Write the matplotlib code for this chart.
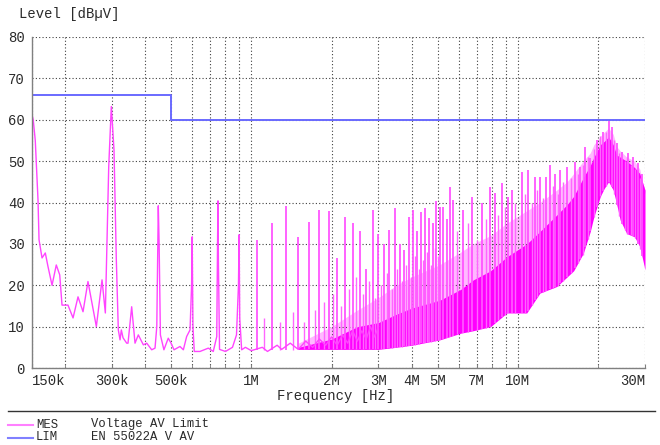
import matplotlib
matplotlib.use('Agg')
import matplotlib.pyplot as plt
from matplotlib.lines import Line2D
from matplotlib.ticker import FixedLocator, NullFormatter
import numpy as np

# ---------------- data ----------------
# continuous measured trace, 150 kHz .. 3 MHz (kHz, dBuV)
trace_freq_khz = [150, 152, 154.7, 158.4, 159.8, 164, 168.7, 172.7, 178.8, 185.5,
                  191.1, 194.9, 205.2, 214.4, 223.8, 233.7, 243.9, 262.2, 275.4, 283.4,
                  291.8, 298.4, 305.4, 311.6, 317, 321.8, 325.4, 330.2, 340.8, 344.7,
                  355.8, 366.2, 376.8, 393.5, 405.2, 423, 435.3, 442, 447.8, 451, 456,
                  470, 488, 500, 513, 540, 556, 572, 589, 597, 600, 604, 611, 642,
                  690, 720, 742, 747, 750, 753, 760, 800, 850, 880, 895, 900, 905, 920,
                  950, 1000, 1100, 1150, 1250, 1300, 1400, 1500, 1600, 1700, 1800,
                  1900, 2000, 2100, 2200, 2300, 2400, 2500, 2600, 2700, 2800, 2900, 3000]
trace_level = [61.5, 60, 55, 40.6, 31, 26.6, 27.8, 24.5, 20, 24.9,
               22.5, 15.2, 15.2, 12.1, 17.2, 13.6, 20.9, 10, 21.3, 13.3,
               48.7, 63.2, 52.7, 26.1, 9.2, 6.8, 9.2, 7.3, 6, 6,
               14.8, 6, 8, 5.6, 6, 4.4, 4.8, 10, 39.2, 30, 8,
               4.4, 7.2, 6, 4.4, 5.2, 4.4, 7.6, 9.2, 20, 31.7, 10, 4, 4,
               4.8, 4, 7.6, 30, 40.4, 25, 4.5, 4, 5, 8, 20, 32.2, 12, 4.4,
               5, 4.2, 5, 4, 5.5, 4.5, 6, 4.5, 6.5, 5, 7,
               5.5, 7.5, 5.5, 8, 6, 9, 6.5, 9, 7, 10, 7.5, 10]

# harmonic spikes (MHz, peak dBuV)
spike_freq_mhz = [1.05, 1.2, 1.35, 1.5, 1.65, 1.8, 1.95, 2.1, 2.25, 2.4, 2.55, 2.7,
                  2.85, 3.0, 3.15, 3.3, 3.45, 3.6, 3.75, 3.9, 4.05, 4.2, 4.35, 4.5,
                  4.65, 4.8, 4.95, 5.1, 5.26, 5.4, 5.55, 5.7, 6.25, 6.72, 7.32, 7.87,
                  8.2, 8.7, 9.2, 9.5, 10.35, 10.95, 11.6, 12.1, 12.8, 13.2, 13.8, 14.4,
                  15.3, 16.4, 17.1, 17.9, 18.7, 19.8, 20.9, 21.9, 22.5, 23.5, 24.6,
                  26.0, 27.1, 28.3, 29.2]
spike_level = [30.9, 35, 39.2, 31.6, 35.2, 38.2, 38, 26.5, 36.6, 35, 33, 24,
               38.3, 32.5, 30, 33.3, 38.6, 30, 28.5, 36.4, 38.3, 33, 37.8, 38.6,
               36.2, 35, 40.4, 39, 39, 36, 43.8, 40.6, 38.2, 41.4, 39.8, 43.8,
               42.2, 44.6, 41.4, 43, 47.4, 47.9, 46.2, 46.2, 46.2, 49.1, 47, 47.9,
               48.7, 49.9, 48.7, 53.5, 50.7, 55.1, 57.1, 59.8, 58.3, 54.3, 52.3,
               51.9, 51.1, 49.5, 47]

# smaller intermediate spikes (MHz, peak dBuV)
minor_freq_mhz = [1.12, 1.28, 1.43, 1.58, 1.73, 1.88, 2.02, 2.17, 2.32, 2.47, 2.62,
                  2.77, 2.92, 3.07, 3.22, 3.37, 3.52, 3.67, 3.82, 3.97, 4.12, 4.27,
                  4.42, 4.57, 4.72, 4.87, 5.02, 5.9, 6.5, 7.0, 7.6, 8.45, 8.95, 9.8,
                  10.6, 11.3, 11.85, 12.45, 13.5, 14.1, 14.8, 15.8, 16.8, 17.5, 18.3,
                  19.3, 20.4, 21.4, 23.0, 24.0, 25.2, 25.6, 26.5, 27.6, 28.8]
minor_level = [12, 11, 13.5, 11, 14, 16, 18, 15, 19, 22, 18,
               21, 17, 20, 23, 19, 24, 21, 25, 22, 27, 24,
               26, 28, 25, 29, 27, 33, 35, 31, 36, 37, 39, 40,
               42, 40, 43, 41, 44, 42, 45, 46, 47, 49, 51,
               53, 56, 57, 55, 52, 50, 51, 49, 48, 46]

# dense emission body envelope (MHz, lower / upper dBuV)
body_freq_mhz = [1.5, 2.0, 2.5, 3.0, 3.5, 4.0, 5.1, 6.1, 6.8, 7.9, 9.1, 10.8, 12.1, 14.0,
                 15.3, 16.2, 17.6, 18.7, 19.3, 20.4, 21.1, 21.9, 22.8, 23.5, 24.2,
                 25.6, 27.4, 28.7, 30.0]
body_low = [4.5, 4.5, 4.5, 4.5, 5, 5.5, 6.8, 8.4, 9, 10, 13.3, 13.3, 18.1, 19.7,
            22, 23.5, 27.7, 33, 36.6, 41.5, 43.4, 45, 43, 39.5, 35.8,
            32.5, 31.7, 29.3, 23.7]
body_high = [5, 7, 10, 11, 13, 14.5, 16.4, 19, 21.3, 23.5, 26.9, 30, 33, 37,
             39.5, 41.5, 46, 49, 51, 54, 54.8, 55.9, 54, 51.5, 51,
             50, 48.5, 47, 43]
haze_high = [6, 10, 14, 17, 20, 22, 25, 28, 30, 32, 35, 38, 40, 43,
             45, 47, 50, 52, 54, 56, 57, 58, 56.5, 53.5, 52.5,
             51, 50, 48, 42]

# limit line EN 55022 class A, average (MHz, dBuV)
limit_freq_mhz = [0.15, 0.5, 0.5, 30.0]
limit_level = [66, 66, 60, 60]

x_tick_labels = ['150k', '300k', '500k', '1M', '2M', '3M', '4M', '5M', '7M', '10M', '30M']
x_tick_values = [150e3, 300e3, 500e3, 1e6, 2e6, 3e6, 4e6, 5e6, 7e6, 10e6, 30e6]
y_tick_values = [0, 10, 20, 30, 40, 50, 60, 70, 80]

# ---------------- figure ----------------
FONT = ['Liberation Mono', 'DejaVu Sans Mono']
plt.rcParams['font.family'] = FONT
TXT = '#2a2a2a'
FS = 10
FSL = 8.8

W, H = 660, 445
fig = plt.figure(figsize=(W / 100, H / 100), dpi=100)
L, R, T, B = 31.7, 645, 37, 368
ax = fig.add_axes([L / W, 1 - B / H, (R - L) / W, (B - T) / H])
ax.set_xscale('log')
ax.set_xlim(150e3, 30e6)
ax.set_ylim(0, 80)

mag = '#ff00ff'
# base of each spike: the floor / body lower edge at that frequency
lb = np.log10(body_freq_mhz)
def base_of(freqs):
    return np.where(np.array(freqs) < body_freq_mhz[0], 4.3,
                    np.interp(np.log10(freqs), lb, body_low))

hz = [f * 1e6 for f in body_freq_mhz]
ax.fill_between(hz, body_high, haze_high, color='#ff80ff', alpha=0.55, lw=0, zorder=2)
ax.fill_between(hz, body_low, body_high, color=mag, lw=0, zorder=3)
ax.vlines([f * 1e6 for f in minor_freq_mhz], base_of(minor_freq_mhz), minor_level,
          color='#ff66ff', lw=1.0, zorder=3)
ax.vlines([f * 1e6 for f in spike_freq_mhz], base_of(spike_freq_mhz), spike_level,
          color='#ff55ff', lw=1.3, zorder=4)
ax.plot([f * 1e3 for f in trace_freq_khz], trace_level, color='#ff44ff', lw=1.0, zorder=4)
ax.plot([f * 1e6 for f in limit_freq_mhz], limit_level, color='#6a6aff', lw=1.4, zorder=5)

# grid / ticks
minor = []
for dec in (1e5, 1e6, 1e7):
    for m in range(2, 10):
        v = m * dec
        if 150e3 < v < 30e6 and v not in x_tick_values:
            minor.append(v)
ax.xaxis.set_major_locator(FixedLocator(x_tick_values))
ax.xaxis.set_minor_locator(FixedLocator(minor))
ax.xaxis.set_minor_formatter(NullFormatter())
ax.set_xticklabels(x_tick_labels)
ax.set_yticks(y_tick_values)
ax.set_yticklabels([str(v) for v in y_tick_values])
ax.grid(True, which='both', axis='x', color='#404040', lw=0.8, ls=(0, (1, 2)), zorder=6)
ax.grid(True, which='major', axis='y', color='#404040', lw=0.8, ls=(0, (1, 2)), zorder=6)
ax.set_axisbelow(False)
ax.tick_params(axis='x', which='both', direction='in', length=3, color='#808080',
               labelsize=FS, labelcolor=TXT, pad=4)
ax.tick_params(axis='y', length=0, labelsize=FS, labelcolor=TXT, pad=5)
labs = ax.get_xticklabels()
labs[0].set_horizontalalignment('left')
labs[-1].set_horizontalalignment('right')
for s in ('top', 'right'):
    ax.spines[s].set_visible(False)
for s in ('left', 'bottom'):
    ax.spines[s].set_color('#808080')
    ax.spines[s].set_linewidth(1.0)
    ax.spines[s].set_zorder(7)

# texts
fig.text(19 / W, 1 - 14 / H, 'Level [dBµV]', ha='left', va='center', fontsize=FS, color=TXT)
fig.text(336 / W, 1 - 396 / H, 'Frequency [Hz]', ha='center', va='center', fontsize=FS, color=TXT)
fig.add_artist(Line2D([8 / W, 655 / W], [1 - 411 / H] * 2, color='#333333', lw=1.0))

# legend
y1, y2 = 424.5, 437.5
fig.add_artist(Line2D([8 / W, 33 / W], [1 - y1 / H] * 2, color='#ff80ff', lw=1.5))
fig.add_artist(Line2D([8 / W, 33 / W], [1 - y2 / H] * 2, color='#8080ff', lw=1.5))
fig.text(36 / W, 1 - y1 / H, 'MES', ha='left', va='center', fontsize=FSL, color=TXT)
fig.text(91 / W, 1 - y1 / H, 'Voltage AV Limit', ha='left', va='center', fontsize=FSL, color=TXT)
fig.text(36 / W, 1 - y2 / H, 'LIM', ha='left', va='center', fontsize=FSL, color=TXT)
fig.text(91 / W, 1 - y2 / H, 'EN 55022A V AV', ha='left', va='center', fontsize=FSL, color=TXT)

fig.savefig('out.png', dpi=100)
